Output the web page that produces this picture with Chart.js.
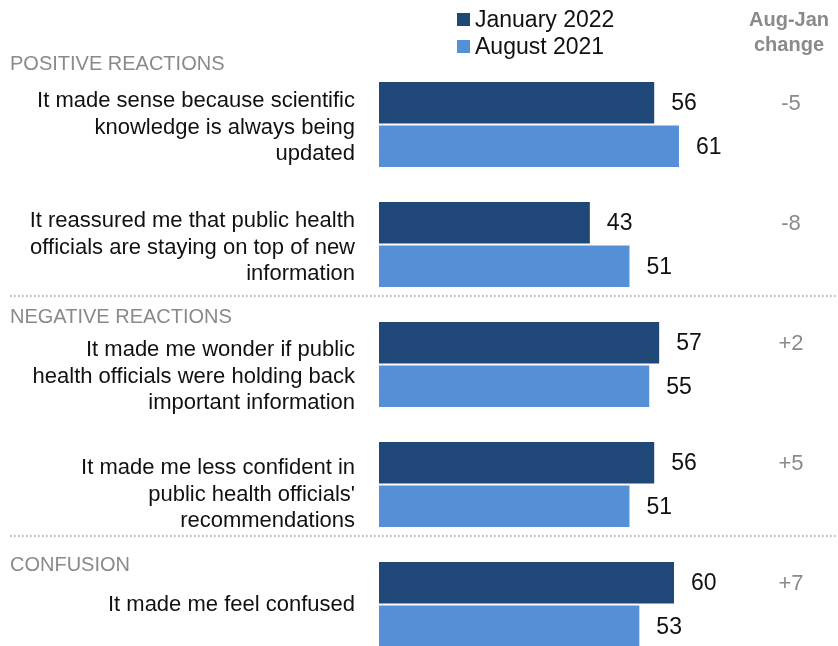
<!DOCTYPE html>
<html>
<head>
<meta charset="utf-8">
<script src="https://cdn.jsdelivr.net/npm/chart.js@4.4.1/dist/chart.umd.min.js"></script>
<style>
    html, body { margin: 0; padding: 0; background: #fff; overflow: hidden; }
    #wrap { position: relative; width: 838px; height: 666px; }
</style>
</head>
<body>
<div id="wrap"><canvas id="reactionsChart"></canvas></div>
<script>
// Reactions to changing public health guidance
const categories = [
    ['It made sense because scientific', 'knowledge is always being', 'updated'],
    ['It reassured me that public health', 'officials are staying on top of new', 'information'],
    ['It made me wonder if public', 'health officials were holding back', 'important information'],
    ['It made me less confident in', "public health officials'", 'recommendations'],
    ['It made me feel confused']
];
const jan2022 = [56, 43, 57, 56, 60];
const aug2021 = [61, 51, 55, 51, 53];
const seriesNames = ['January 2022', 'August 2021'];
const sectionNames = ['POSITIVE REACTIONS', 'NEGATIVE REACTIONS', 'CONFUSION'];

const DARK = '#1f4778';
const LIGHT = '#558fd6';
const GRAY = '#8a8a8a';
const FONT = "'Liberation Sans', Arial, sans-serif";

// page furniture (y positions in px)
const sectionY = [64, 317, 565];
const dividerY = [296, 536];
const labelNudge = [3, 3, 12, 10, 0];

const overlay = {
    id: 'overlay',
    afterDatasetsDraw(chart) {
        const c = chart.ctx;
        const janBars = chart.getDatasetMeta(0).data;
        const augBars = chart.getDatasetMeta(1).data;
        c.save();
        c.textBaseline = 'middle';

        // legend
        [DARK, LIGHT].forEach((col, i) => {
            const cy = 20 + i * 27;
            c.fillStyle = col;
            c.fillRect(457, cy - 7, 13, 13);
            c.fillStyle = '#111';
            c.font = '23px ' + FONT;
            c.textAlign = 'left';
            c.fillText(seriesNames[i], 475, cy + 1);
        });

        // change column header
        c.fillStyle = GRAY;
        c.font = 'bold 20px ' + FONT;
        c.textAlign = 'center';
        c.fillText('Aug-Jan', 789, 20);
        c.fillText('change', 789, 45);

        // section headers
        c.font = '20px ' + FONT;
        c.textAlign = 'left';
        sectionNames.forEach((s, i) => c.fillText(s, 10, sectionY[i]));

        // dotted dividers
        c.strokeStyle = '#9a9a9a';
        c.lineWidth = 1.5;
        c.setLineDash([1.5, 2.5]);
        dividerY.forEach(y => {
            c.beginPath();
            c.moveTo(10, y);
            c.lineTo(838, y);
            c.stroke();
        });
        c.setLineDash([]);

        categories.forEach((lines, i) => {
            const j = janBars[i], a = augBars[i];
            const mid = (j.y + a.y) / 2 + labelNudge[i];

            // category label
            c.fillStyle = '#111';
            c.font = '22px ' + FONT;
            c.textAlign = 'right';
            const lh = 26.5;
            lines.forEach((t, k) => {
                c.fillText(t, 355, mid + (k - (lines.length - 1) / 2) * lh);
            });

            // values
            c.textAlign = 'left';
            c.font = '23px ' + FONT;
            c.fillText(jan2022[i], j.x + 16, j.y + 1);
            c.fillText(aug2021[i], a.x + 16, a.y + 1);

            // change
            const d = jan2022[i] - aug2021[i];
            c.fillStyle = GRAY;
            c.textAlign = 'center';
            c.font = '22px ' + FONT;
            c.fillText((d > 0 ? '+' : '') + d, 791, j.y + 1);
        });
        c.restore();
    }
};

new Chart(document.getElementById('reactionsChart'), {
    type: 'bar',
    data: {
        labels: categories.map(l => l.join(' ')),
        datasets: [
            { label: seriesNames[0], data: jan2022, backgroundColor: DARK },
            { label: seriesNames[1], data: aug2021, backgroundColor: LIGHT }
        ]
    },
    options: {
        indexAxis: 'y',
        responsive: true,
        maintainAspectRatio: false,
        animation: false,
        datasets: {
            bar: {
                categoryPercentage: 0.725,
                barPercentage: 1,
                borderWidth: 1,
                borderColor: 'rgba(255,255,255,0.75)',
                borderSkipped: false
            }
        },
        layout: { padding: { left: 378, right: 14.5, top: 64.5, bottom: 1.5 } },
        plugins: { legend: { display: false }, tooltip: { enabled: false } },
        scales: {
            x: { min: 0, max: 90, display: false },
            y: { display: false }
        }
    },
    plugins: [overlay]
});
</script>
</body>
</html>
